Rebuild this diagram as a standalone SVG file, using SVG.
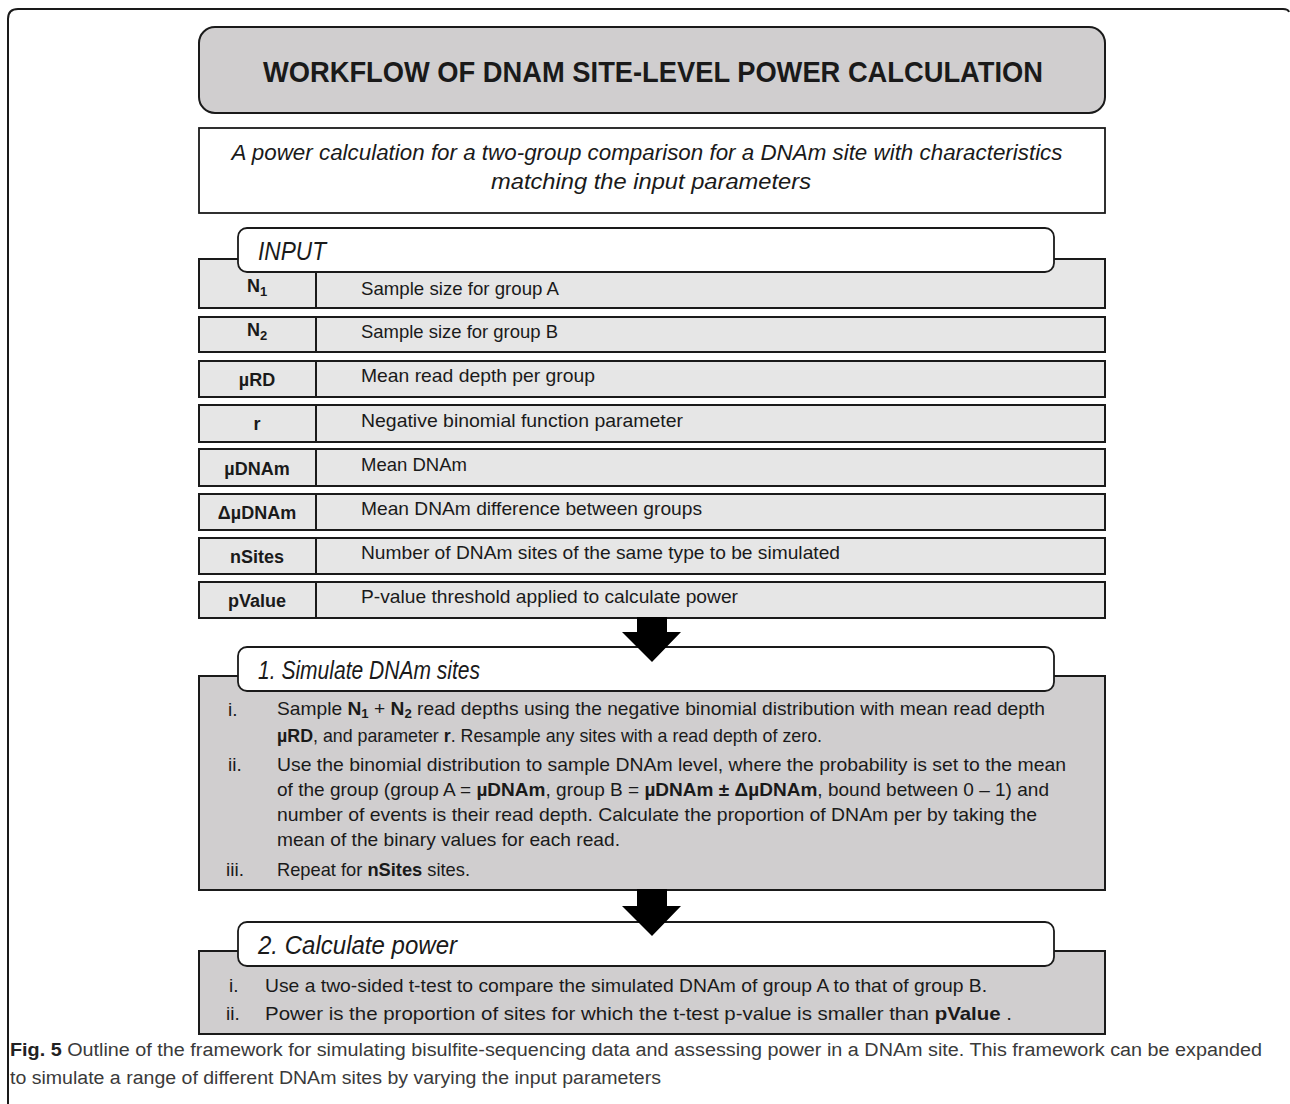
<svg xmlns="http://www.w3.org/2000/svg" width="1290" height="1104" viewBox="0 0 1290 1104">
<style>
.frame{fill:none;stroke:#1a1a1a;stroke-width:2}
.title{fill:#d0cecf;stroke:#1a1a1a;stroke-width:2}
.box{fill:#ffffff;stroke:#1a1a1a;stroke-width:1.8}
.row{fill:#e6e6e6;stroke:#1a1a1a;stroke-width:2}
.gray{fill:#d0cecf;stroke:#1a1a1a;stroke-width:2}
.tab{fill:#ffffff;stroke:#1a1a1a;stroke-width:1.8}
.arrow{fill:#000000}
text{font-family:"Liberation Sans","Open Sans",Arial,sans-serif;fill:#1a1a1a}
.t1{font-size:30px;font-weight:bold;text-anchor:middle}
.sub{font-size:22px;font-style:italic;text-anchor:middle}
.hd{font-size:25px;font-style:italic}
.lab{font-size:18px;font-weight:bold;text-anchor:middle}
.desc{font-size:18.5px}
.it{font-size:19px}
.cap{font-size:18px;fill:#3a3a3a}
.b{font-weight:bold}
</style>

<g id="outer-frame">
<path class="frame" d="M8,1104 V19 Q8,9 18,9 H1283 Q1288,9 1289,12"/>
</g>

<g id="title">
<rect class="title" x="199" y="27" width="906" height="86" rx="16" ry="16"/>
<text class="t1" x="653" y="82" textLength="780" lengthAdjust="spacingAndGlyphs">WORKFLOW OF DNAM SITE-LEVEL POWER CALCULATION</text>
</g>

<g id="summary">
<rect class="box" x="199" y="128" width="906" height="85"/>
<text class="sub" x="647" y="160" textLength="831" lengthAdjust="spacingAndGlyphs">A power calculation for a two-group comparison for a DNAm site with characteristics</text>
<text class="sub" x="651" y="189" textLength="320" lengthAdjust="spacingAndGlyphs">matching the input parameters</text>
</g>

<g id="input">
<g id="row-n1">
<rect class="row" x="199" y="259" width="906" height="49"/>
<line class="row" x1="316" y1="259" x2="316" y2="308"/>
<text class="lab" x="257" y="292">N<tspan font-size="13" dy="4">1</tspan></text>
<text class="desc" x="361" y="295" textLength="198" lengthAdjust="spacingAndGlyphs">Sample size for group A</text>
</g>
<g id="row-n2">
<rect class="row" x="199" y="317" width="906" height="35"/>
<line class="row" x1="316" y1="317" x2="316" y2="352"/>
<text class="lab" x="257" y="336">N<tspan font-size="13" dy="4">2</tspan></text>
<text class="desc" x="361" y="338" textLength="197" lengthAdjust="spacingAndGlyphs">Sample size for group B</text>
</g>
<g id="row-murd">
<rect class="row" x="199" y="361" width="906" height="36"/>
<line class="row" x1="316" y1="361" x2="316" y2="397"/>
<text class="lab" x="257" y="386">µRD</text>
<text class="desc" x="361" y="382" textLength="234" lengthAdjust="spacingAndGlyphs">Mean read depth per group</text>
</g>
<g id="row-r">
<rect class="row" x="199" y="405" width="906" height="37"/>
<line class="row" x1="316" y1="405" x2="316" y2="442"/>
<text class="lab" x="257" y="430">r</text>
<text class="desc" x="361" y="427" textLength="322" lengthAdjust="spacingAndGlyphs">Negative binomial function parameter</text>
</g>
<g id="row-mudnam">
<rect class="row" x="199" y="449" width="906" height="37"/>
<line class="row" x1="316" y1="449" x2="316" y2="486"/>
<text class="lab" x="257" y="475">µDNAm</text>
<text class="desc" x="361" y="471" textLength="106" lengthAdjust="spacingAndGlyphs">Mean DNAm</text>
</g>
<g id="row-dmudnam">
<rect class="row" x="199" y="494" width="906" height="36"/>
<line class="row" x1="316" y1="494" x2="316" y2="530"/>
<text class="lab" x="257" y="519">ΔµDNAm</text>
<text class="desc" x="361" y="515" textLength="341" lengthAdjust="spacingAndGlyphs">Mean DNAm difference between groups</text>
</g>
<g id="row-nsites">
<rect class="row" x="199" y="538" width="906" height="36"/>
<line class="row" x1="316" y1="538" x2="316" y2="574"/>
<text class="lab" x="257" y="563">nSites</text>
<text class="desc" x="361" y="559" textLength="479" lengthAdjust="spacingAndGlyphs">Number of DNAm sites of the same type to be simulated</text>
</g>
<g id="row-pvalue">
<rect class="row" x="199" y="582" width="906" height="36"/>
<line class="row" x1="316" y1="582" x2="316" y2="618"/>
<text class="lab" x="257" y="607">pValue</text>
<text class="desc" x="361" y="603" textLength="377" lengthAdjust="spacingAndGlyphs">P-value threshold applied to calculate power</text>
</g>
<g id="input-tab">
<rect class="tab" x="238" y="228" width="816" height="44" rx="9" ry="9"/>
<text class="hd" x="258" y="260" textLength="68" lengthAdjust="spacingAndGlyphs">INPUT</text>
</g>
</g>

<g id="simulate">
<rect class="gray" x="199" y="676" width="906" height="214"/>
<rect class="tab" x="238" y="647" width="816" height="44" rx="9" ry="9"/>
<text class="hd" x="258" y="679" textLength="222" lengthAdjust="spacingAndGlyphs">1. Simulate DNAm sites</text>
<text class="it" x="228" y="716">i.</text>
<text class="it" x="277" y="715" textLength="768" lengthAdjust="spacingAndGlyphs">Sample <tspan class="b">N<tspan font-size="13" dy="3">1</tspan></tspan><tspan dy="-3"> + </tspan><tspan class="b">N<tspan font-size="13" dy="3">2</tspan></tspan><tspan dy="-3"> read depths using the negative binomial distribution with mean read depth</tspan></text>
<text class="it" x="277" y="742" textLength="545" lengthAdjust="spacingAndGlyphs"><tspan class="b">µRD</tspan>, and parameter <tspan class="b">r</tspan>. Resample any sites with a read depth of zero.</text>
<text class="it" x="228" y="771">ii.</text>
<text class="it" x="277" y="771" textLength="789" lengthAdjust="spacingAndGlyphs">Use the binomial distribution to sample DNAm level, where the probability is set to the mean</text>
<text class="it" x="277" y="796" textLength="772" lengthAdjust="spacingAndGlyphs">of the group (group A = <tspan class="b">µDNAm</tspan>, group B = <tspan class="b">µDNAm ± ΔµDNAm</tspan>, bound between 0 – 1) and</text>
<text class="it" x="277" y="821" textLength="760" lengthAdjust="spacingAndGlyphs">number of events is their read depth. Calculate the proportion of DNAm per by taking the</text>
<text class="it" x="277" y="846" textLength="343" lengthAdjust="spacingAndGlyphs">mean of the binary values for each read.</text>
<text class="it" x="226" y="876">iii.</text>
<text class="it" x="277" y="876" textLength="193" lengthAdjust="spacingAndGlyphs">Repeat for <tspan class="b">nSites</tspan> sites.</text>
</g>

<g id="calculate">
<rect class="gray" x="199" y="951" width="906" height="83"/>
<rect class="tab" x="238" y="922" width="816" height="44" rx="9" ry="9"/>
<text class="hd" x="258" y="954" textLength="199" lengthAdjust="spacingAndGlyphs">2. Calculate power</text>
<text class="it" x="229" y="992">i.</text>
<text class="it" x="265" y="992" textLength="722" lengthAdjust="spacingAndGlyphs">Use a two-sided t-test to compare the simulated DNAm of group A to that of group B.</text>
<text class="it" x="226" y="1020">ii.</text>
<text class="it" x="265" y="1020" textLength="747" lengthAdjust="spacingAndGlyphs">Power is the proportion of sites for which the t-test p-value is smaller than <tspan class="b">pValue</tspan> .</text>
</g>

<g id="connectors">
<polygon class="arrow" points="637,617 667,617 667,632 681,632 652,662 622,632 637,632"/>
<polygon class="arrow" points="637,889 667,889 667,906 681,906 652,936 622,906 637,906"/>
</g>

<g id="caption">
<text class="cap" x="10" y="1056" textLength="1252" lengthAdjust="spacingAndGlyphs"><tspan class="b" fill="#222">Fig. 5</tspan> Outline of the framework for simulating bisulfite-sequencing data and assessing power in a DNAm site. This framework can be expanded</text>
<text class="cap" x="10" y="1084" textLength="651" lengthAdjust="spacingAndGlyphs">to simulate a range of different DNAm sites by varying the input parameters</text>
</g>
</svg>
